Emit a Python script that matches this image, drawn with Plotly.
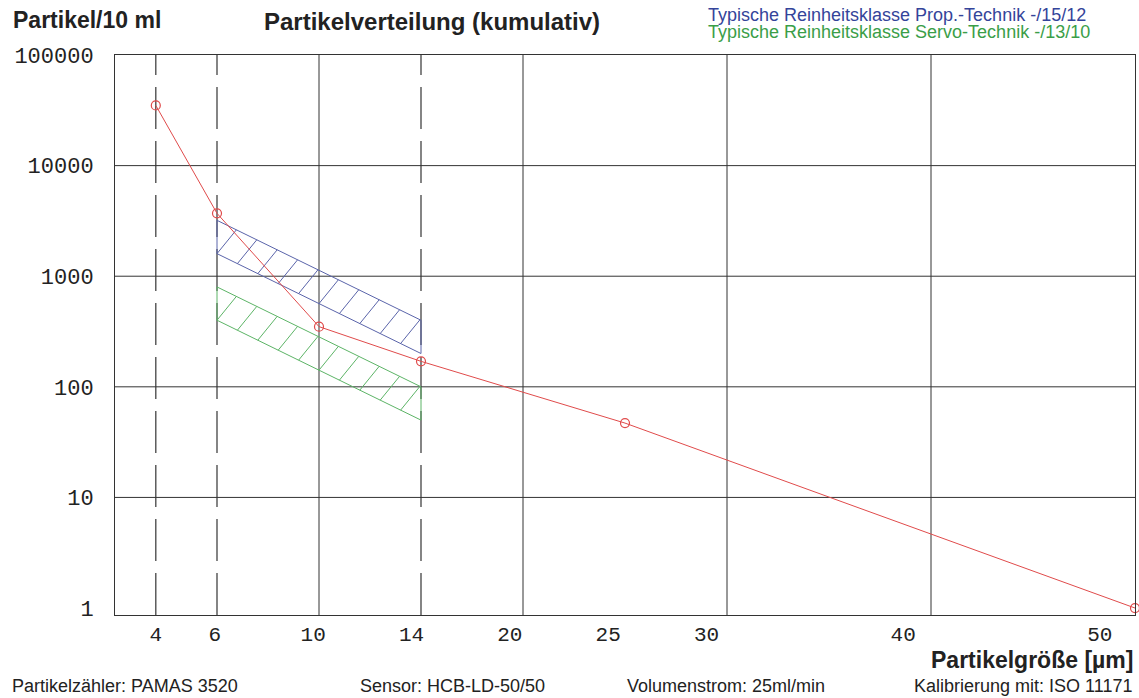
import numpy as np
import plotly.graph_objects as go

# ---------------- data ----------------
sizes = [4, 6, 10, 14, 25, 50]                 # particle size [µm]
counts = [35000, 3700, 350, 170, 47, 1]        # particles / 10 ml (cumulative)

tick_sizes = [4, 6, 10, 14, 20, 25, 30, 40, 50]
tick_labels = ["4", "6", "10", "14", "20", "25", "30", "40", "50"]
y_ticks = [1, 10, 100, 1000, 10000, 100000]
y_labels = ["1", "10", "100", "1000", "10000", "100000"]
y_grid = [10, 100, 1000, 10000]

band_sizes = [6, 14]
prop_upper = [3200, 400]      # -/15/12
prop_lower = [1600, 200]
servo_upper = [800, 100]      # -/13/10
servo_lower = [400, 50]

solid_grid_sizes = [10, 20, 30, 40]
dashed_grid_sizes = [4, 6, 14]

# ---------------- axis scale (non-uniform size axis) ----------------
scale_pos = [0.4, 1, 2, 3, 4, 5, 6, 8, 10]
X_MIN, X_MAX = 0, 10


def xpos(s):
    return np.interp(s, tick_sizes, scale_pos)


W, H = 1139, 698
L, R, T, B = 115, 1135, 55, 615.5


def px(X):
    return (X - L) / (R - L)


def py(Y):
    return (B - Y) / (B - T)


RED = "#e04b4b"
BLUE_T = "#34449a"
GREEN_T = "#3a9e48"
BLUE_L = "#5a64aa"
GREEN_L = "#5cb466"
GRID = "#333333"

fig = go.Figure()

# horizontal grid lines (decades, not at 1)
gx, gy = [], []
for v in y_grid:
    gx += [X_MIN, X_MAX, None]
    gy += [v, v, None]
fig.add_trace(go.Scatter(x=gx, y=gy, mode="lines", line=dict(color=GRID, width=1),
                         hoverinfo="skip", showlegend=False))


def band(upper, lower, color):
    xs = xpos(np.array(band_sizes, dtype=float))
    poly_x = [xs[0], xs[0], xs[1], xs[1], xs[0]]
    poly_y = [lower[0], upper[0], upper[1], lower[1], lower[0]]
    fig.add_trace(go.Scatter(x=poly_x, y=poly_y, mode="lines",
                             line=dict(color=color, width=1),
                             hoverinfo="skip", showlegend=False))
    # hatch lines between the lower and upper edge
    lu0, lu1 = np.log10(upper)
    ll0, ll1 = np.log10(lower)

    def lt(u):
        return lu0 + (lu1 - lu0) * (u - xs[0]) / (xs[1] - xs[0])

    def lb(u):
        return ll0 + (ll1 - ll0) * (u - xs[0]) / (xs[1] - xs[0])

    hx, hy = [], []
    step = (xs[1] - xs[0]) / 10
    for k in range(10):
        u0 = xs[0] + k * step
        u1 = min(u0 + 0.19 * (xs[1] - xs[0]) / 2, xs[1])
        hx += [u0, u1, None]
        hy += [10 ** lb(u0), 10 ** lt(u1), None]
    fig.add_trace(go.Scatter(x=hx, y=hy, mode="lines",
                             line=dict(color=color, width=1),
                             hoverinfo="skip", showlegend=False))


band(prop_upper, prop_lower, BLUE_L)
band(servo_upper, servo_lower, GREEN_L)

fig.add_trace(go.Scatter(
    x=xpos(np.array(sizes, dtype=float)), y=counts, mode="lines+markers",
    line=dict(color=RED, width=1),
    marker=dict(symbol="circle-open", size=9, color=RED, line=dict(width=1.2)),
    cliponaxis=False, showlegend=False))

# grid lines (vertical)
shapes = []
for s in solid_grid_sizes:
    shapes.append(dict(type="line", xref="x", yref="paper", x0=xpos(s), x1=xpos(s),
                       y0=0, y1=1, line=dict(color=GRID, width=1), layer="below"))
for s in dashed_grid_sizes:
    shapes.append(dict(type="line", xref="x", yref="paper", x0=xpos(s), x1=xpos(s),
                       y0=0, y1=1, line=dict(color="#444444", width=1.3, dash="42px,12px"),
                       layer="below"))

# tick label positions (drawn slightly compressed as in the original)
label_pos = [0.015 + 0.964 * p for p in scale_pos]

ann = []
def text(X, Y, s, size, color="#222222", anchor="left", bold=False):
    ann.append(dict(x=px(X), y=py(Y), xref="paper", yref="paper", text=(f"<b>{s}</b>" if bold else s),
                    showarrow=False, xanchor=anchor, yanchor="middle",
                    font=dict(family="Liberation Sans, Arial, sans-serif", size=size, color=color)))

text(11, 20, "Partikel/10 ml", 23, bold=True)
text(432, 21, "Partikelverteilung (kumulativ)", 24, anchor="center", bold=True)
text(706, 14.5, "Typische Reinheitsklasse Prop.-Technik -/15/12", 18, color=BLUE_T)
text(706, 32, "Typische Reinheitsklasse Servo-Technik -/13/10", 18, color=GREEN_T)
text(1135, 661, "Partikelgröße [µm]", 23, anchor="right", bold=True)
text(10, 687, "Partikelzähler: PAMAS 3520", 18)
text(358, 687, "Sensor: HCB-LD-50/50", 18)
text(625, 687, "Volumenstrom: 25ml/min", 18)
text(1134, 687, "Kalibrierung mit: ISO 11171", 18, anchor="right")

fig.update_layout(
    width=W, height=H,
    margin=dict(l=L, r=W - R, t=T, b=H - B, pad=0),
    paper_bgcolor="white", plot_bgcolor="white",
    shapes=shapes, annotations=ann,
    xaxis=dict(range=[X_MIN, X_MAX], showgrid=False, zeroline=False,
               tickvals=label_pos, ticktext=tick_labels, ticks="", ticklen=0,
               tickfont=dict(family="Liberation Mono, monospace", size=21, color="#222222"),
               showline=True, mirror=True, linecolor=GRID, linewidth=1,
               ticklabelstandoff=0),
    yaxis=dict(type="log", range=[-0.063, 5], tickvals=y_ticks, ticktext=y_labels,
               showgrid=False, zeroline=False, ticks="", ticklen=0,
               tickfont=dict(family="Liberation Mono, monospace", size=22, color="#222222"),
               showline=True, mirror=True, linecolor=GRID, linewidth=1,
               ticklabelstandoff=16),
)

fig.write_html("out.html", config={"displayModeBar": False},
               post_script="document.body.style.margin='0px';document.body.style.overflow='hidden';")
